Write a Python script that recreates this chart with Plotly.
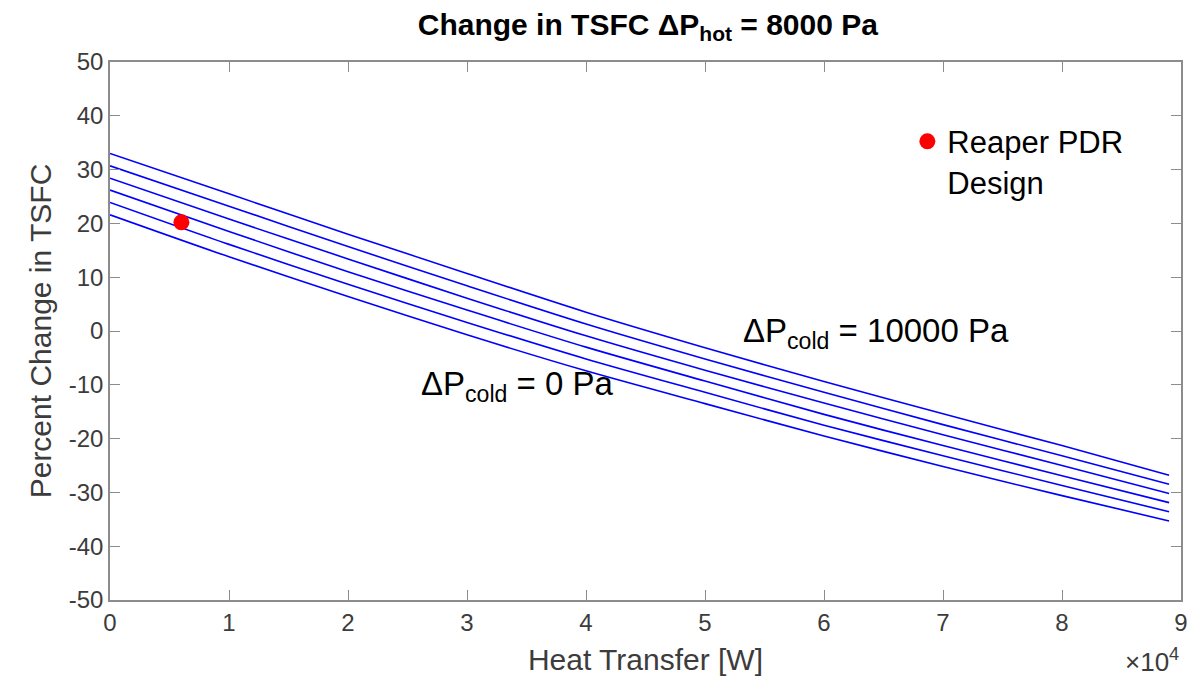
import plotly.graph_objects as go

# Heat transfer [W]
heat_transfer = [0, 10000, 20000, 30000, 40000, 50000, 60000, 70000, 80000, 89000]

# Percent change in TSFC, one series per cold-side pressure drop (top = 10000 Pa, bottom = 0 Pa)
tsfc_10000 = [33.0, 25.5, 18.0, 10.7, 3.5, -3.1, -9.4, -15.4, -21.3, -26.8]
tsfc_8000 = [30.7, 23.2, 15.7, 8.4, 1.3, -5.2, -11.4, -17.4, -23.2, -28.5]
tsfc_6000 = [28.4, 20.8, 13.4, 6.1, -0.9, -7.3, -13.4, -19.3, -25.0, -30.2]
tsfc_4000 = [26.2, 18.5, 11.0, 3.9, -3.0, -9.3, -15.5, -21.3, -26.9, -31.9]
tsfc_2000 = [23.9, 16.1, 8.7, 1.6, -5.2, -11.4, -17.5, -23.2, -28.7, -33.6]
tsfc_0 = [21.6, 13.8, 6.4, -0.7, -7.4, -13.5, -19.5, -25.2, -30.6, -35.3]

# Reaper PDR design point
design_q = [6000]
design_tsfc = [20.2]

x_tick_vals = [0, 10000, 20000, 30000, 40000, 50000, 60000, 70000, 80000, 90000]
x_tick_text = ["0", "1", "2", "3", "4", "5", "6", "7", "8", "9"]
y_tick_vals = [-50, -40, -30, -20, -10, 0, 10, 20, 30, 40, 50]
y_tick_text = ["-50", "-40", "-30", "-20", "-10", "0", "10", "20", "30", "40", "50"]

FONT = "Liberation Sans, Arial, Helvetica, sans-serif"
TXT = "#3c3c3c"
AX = "#8c8c8c"

fig = go.Figure()
for ys in [tsfc_10000, tsfc_8000, tsfc_6000, tsfc_4000, tsfc_2000, tsfc_0]:
    fig.add_trace(go.Scatter(
        x=heat_transfer, y=ys, mode="lines",
        line=dict(color="#0000ff", width=1.6, shape="spline", smoothing=0.8),
        showlegend=False, hoverinfo="skip"))

fig.add_trace(go.Scatter(
    x=design_q, y=design_tsfc, mode="markers",
    marker=dict(color="#ff0000", size=16, line=dict(width=0)),
    name="Reaper PDR<br>Design", showlegend=True))

# the page adds an 8px body margin, so the figure is 8px smaller than the window
fig.update_layout(
    width=1196, height=680,
    margin=dict(l=102, r=23, t=54, b=88, autoexpand=False),
    paper_bgcolor="white", plot_bgcolor="white",
    font=dict(family=FONT, color=TXT),
    title=dict(text="<b>Change in TSFC \u0394P<sub>hot</sub> = 8000 Pa</b>",
               x=0.535, xanchor="center", y=0.976, yanchor="middle",
               font=dict(size=30, color="#000000", family=FONT)),
    legend=dict(x=0.7445, y=0.902, xanchor="left", yanchor="top",
                bgcolor="rgba(0,0,0,0)", borderwidth=0, itemwidth=30,
                valign="top",
                font=dict(size=31, color="#000000", family=FONT),
                tracegroupgap=0),
    showlegend=True,
)

fig.update_xaxes(
    range=[0, 90000], tickvals=x_tick_vals, ticktext=x_tick_text,
    showgrid=False, zeroline=False, showline=True, linecolor=AX, linewidth=1.5,
    mirror="ticks", ticks="inside", ticklen=10, tickcolor=AX, tickwidth=1,
    tickfont=dict(size=24, color=TXT, family=FONT), automargin=False,
    title=dict(text="Heat Transfer [W]", font=dict(size=30, color=TXT, family=FONT), standoff=14))
fig.update_yaxes(
    range=[-50, 50], tickvals=y_tick_vals, ticktext=y_tick_text,
    showgrid=False, zeroline=False, showline=True, linecolor=AX, linewidth=1.5,
    mirror="ticks", ticks="inside", ticklen=10, tickcolor=AX, tickwidth=1,
    tickfont=dict(size=24, color=TXT, family=FONT), automargin=False,
    title=dict(text="Percent Change in TSFC", font=dict(size=30, color=TXT, family=FONT), standoff=8))

fig.add_annotation(text="\u0394P<sub>cold</sub> = 0 Pa", x=26000, y=-10.3, xref="x", yref="y",
                   xanchor="left", yanchor="middle", showarrow=False,
                   font=dict(size=33, color="#000000", family=FONT))
fig.add_annotation(text="\u0394P<sub>cold</sub> = 10000 Pa", x=53000, y=-0.3, xref="x", yref="y",
                   xanchor="left", yanchor="middle", showarrow=False,
                   font=dict(size=33, color="#000000", family=FONT))
fig.add_annotation(text="\u00d710<sup>4</sup>", x=1.0, y=-0.112, xref="paper", yref="paper",
                   xanchor="right", yanchor="middle", showarrow=False,
                   font=dict(size=26, color=TXT, family=FONT))

fig.write_html("out.html")
